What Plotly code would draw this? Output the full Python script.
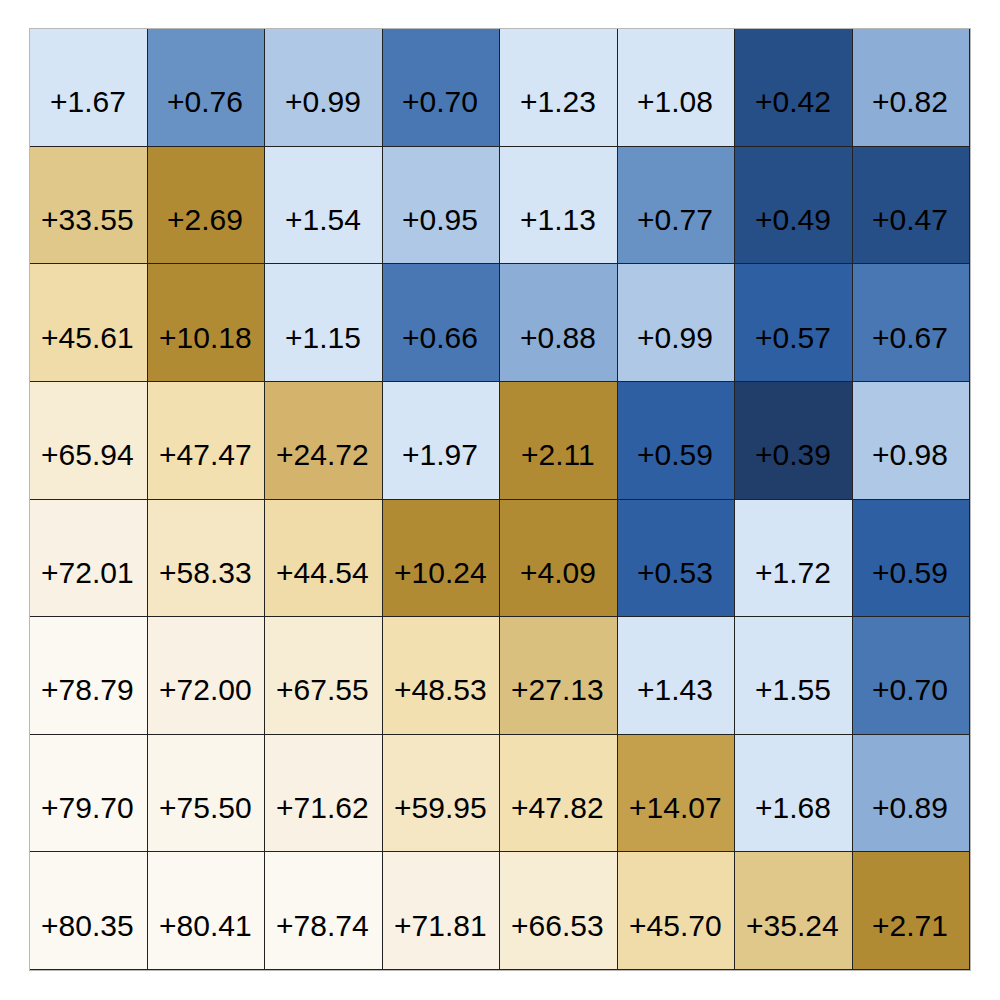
import plotly.graph_objects as go

rows = ["r0", "r1", "r2", "r3", "r4", "r5", "r6", "r7"]
cols = ["c0", "c1", "c2", "c3", "c4", "c5", "c6", "c7"]

row0 = [1.67, 0.76, 0.99, 0.70, 1.23, 1.08, 0.42, 0.82]
row1 = [33.55, 2.69, 1.54, 0.95, 1.13, 0.77, 0.49, 0.47]
row2 = [45.61, 10.18, 1.15, 0.66, 0.88, 0.99, 0.57, 0.67]
row3 = [65.94, 47.47, 24.72, 1.97, 2.11, 0.59, 0.39, 0.98]
row4 = [72.01, 58.33, 44.54, 10.24, 4.09, 0.53, 1.72, 0.59]
row5 = [78.79, 72.00, 67.55, 48.53, 27.13, 1.43, 1.55, 0.70]
row6 = [79.70, 75.50, 71.62, 59.95, 47.82, 14.07, 1.68, 0.89]
row7 = [80.35, 80.41, 78.74, 71.81, 66.53, 45.70, 35.24, 2.71]
z = [row0, row1, row2, row3, row4, row5, row6, row7]

# colour bins: (edges, colour per bin)
bin_edges = [0.0, 0.40, 0.50, 0.605, 0.705, 0.80, 0.90, 1.00, 2.00,
             12.0, 20.0, 26.0, 30.0, 40.0, 47.0, 50.0, 62.0, 70.0, 75.0, 78.0, 81.0]
bin_colors = ["#213e6b", "#264e87", "#2e5fa3", "#4877b3", "#6891c4", "#8badd6",
              "#aec8e5", "#d5e5f6", "#b08b34", "#c4a04c", "#d4b46c", "#dac07e",
              "#e0c88a", "#f0dca8", "#f3e0b0", "#f5e6c4", "#f6edd4", "#f9f2e4",
              "#fbf6ec", "#fcf9f2"]

zmin, zmax = bin_edges[0], bin_edges[-1]
colorscale = []
for i, c in enumerate(bin_colors):
    a = (bin_edges[i] - zmin) / (zmax - zmin)
    b = (bin_edges[i + 1] - zmin) / (zmax - zmin)
    colorscale.append([a, c])
    colorscale.append([b, c])

fig = go.Figure(go.Heatmap(
    z=z, x=cols, y=rows,
    colorscale=colorscale, zmin=zmin, zmax=zmax,
    showscale=False, xgap=1, ygap=1,
    hoverinfo="skip",
))

for r, rv in zip(rows, z):
    for c, v in zip(cols, rv):
        fig.add_annotation(
            x=c, y=r, text=f"+{v:.2f}", showarrow=False, yshift=-14, xshift=-1,
            font=dict(family="Liberation Sans, Arial, sans-serif", size=30, color="black"),
        )

fig.update_layout(
    width=1000, height=1000,
    margin=dict(l=22, r=38, t=21, b=38),
    paper_bgcolor="white", plot_bgcolor="#222222",
    xaxis=dict(showticklabels=False, ticks="", showgrid=False, zeroline=False,
               showline=True, mirror=True, linecolor="#b8b8b8", linewidth=1),
    yaxis=dict(showticklabels=False, ticks="", showgrid=False, zeroline=False,
               autorange="reversed",
               showline=True, mirror=True, linecolor="#b8b8b8", linewidth=1),
)

fig.write_html("out.html")
